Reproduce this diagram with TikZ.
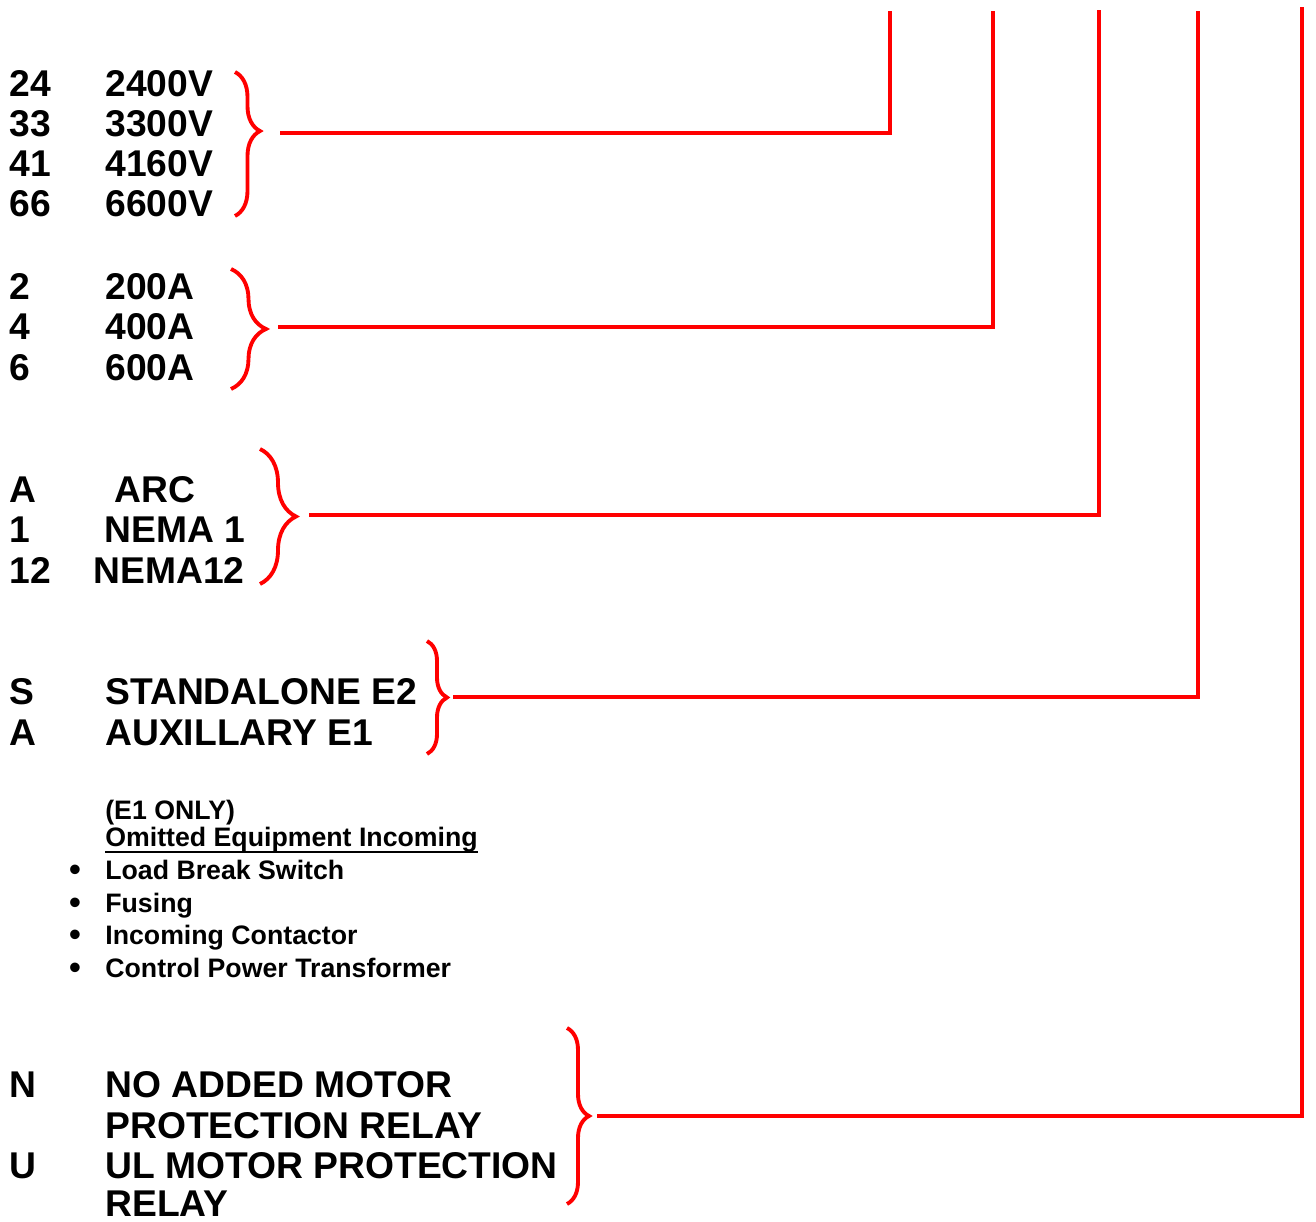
\documentclass[tikz,border=0pt]{standalone}
\usepackage{fontspec}
\setmainfont{Liberation Sans}
\usetikzlibrary{decorations.pathreplacing}
\definecolor{leadred}{HTML}{FF0000}
\newcommand{\ulbox}[1]{\setbox0\hbox{#1}\rlap{\rule[-3.4pt]{\wd0}{1.3pt}}\box0}

\begin{document}
\begin{tikzpicture}[
 x=0.02cm, y=-0.02cm,
 every node/.style={inner sep=0pt,anchor=base west,font=\bfseries\fontsize{21.2}{24}\selectfont},
 small/.style={font=\bfseries\fontsize{15.2}{18}\selectfont},
 bul/.style={anchor=center,font=\fontsize{20}{22}\selectfont},
 curly/.style={decorate,decoration={brace,amplitude=#1},draw=leadred,line width=2.2pt},
 feed/.style={draw=leadred,line width=2.3pt}
]
\useasboundingbox (0,0) rectangle (1316,1222);

% voltage
\node (c24) at (9,97) {24};  \node (d24) at (105,97) {2400V};
\node (c33) at (9,137) {33}; \node (d33) at (105,137) {3300V};
\node (c41) at (9,177) {41}; \node (d41) at (105,177) {4160V};
\node (c66) at (9,217) {66}; \node (d66) at (105,217) {6600V};
\draw[curly=0.5cm,decoration={aspect=0.41}] (235,72) -- (235,216);
\coordinate (s1) at (280,133); \coordinate (e1) at (890,11);
\draw[feed] (s1) -| (e1);

% current
\node (c2) at (9,300) {2}; \node (d2) at (105,300) {200A};
\node (c4) at (9,340) {4}; \node (d4) at (105,340) {400A};
\node (c6) at (9,381) {6}; \node (d6) at (105,381) {600A};
\draw[curly=0.7cm] (231,269) -- (231,389);
\coordinate (s2) at (278,327); \coordinate (e2) at (993,11);
\draw[feed] (s2) -| (e2);

% enclosure
\node (cA) at (9,503) {A};   \node (dA) at (114,503) {ARC};
\node (c1) at (9,543) {1};   \node (d1) at (104,543) {NEMA 1};
\node (c12) at (9,584) {12}; \node (d12) at (93,584) {NEMA12};
\draw[curly=0.72cm] (260,449) -- (260,584);
\coordinate (s3) at (309,515); \coordinate (e3) at (1099,10);
\draw[feed] (s3) -| (e3);

% type
\node (cS) at (9,705) {S};  \node (dS) at (105,705) {STANDALONE E2};
\node (cAx) at (9,746) {A}; \node (dAx) at (105,746) {AUXILLARY E1};
\draw[curly=0.4cm] (427,641) -- (427,754);
\coordinate (s4) at (453,697); \coordinate (e4) at (1198,11);
\draw[feed] (s4) -| (e4);

% omitted equipment
\node[small] (only) at (105,820) {(E1 ONLY)};
\node[small] (omit) at (105,847) {\ulbox{Omitted Equipment Incoming}};
\node[bul] (b1) at (75,873) {\textbullet}; \node[small] (lbs) at (105,880) {Load Break Switch};
\node[bul] (b2) at (75,906) {\textbullet}; \node[small] (fus) at (105,913) {Fusing};
\node[bul] (b3) at (75,938) {\textbullet}; \node[small] (inc) at (105,945) {Incoming Contactor};
\node[bul] (b4) at (75,971) {\textbullet}; \node[small] (cpt) at (105,978) {Control Power Transformer};

% relay
\node (cN) at (9,1097) {N};  \node (dN1) at (105,1097) {NO ADDED MOTOR};
\node (dN2) at (105,1138) {PROTECTION RELAY};
\node (cU) at (9,1178) {U};  \node (dU1) at (105,1178) {UL MOTOR PROTECTION};
\node (dU2) at (105,1216) {RELAY};
\draw[curly=0.44cm] (567,1028) -- (567,1204);
\coordinate (s5) at (597,1116); \coordinate (e5) at (1302,7);
\draw[feed] (s5) -| (e5);
\end{tikzpicture}
\end{document}
